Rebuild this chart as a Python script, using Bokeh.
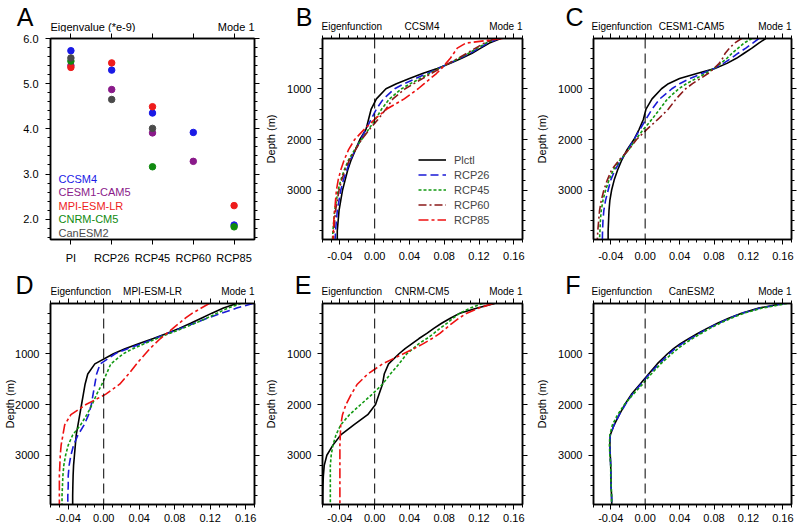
from bokeh.plotting import figure
from bokeh.models import (Range1d, FixedTicker, PrintfTickFormatter, LinearAxis, Label,
                          Span, Legend, LegendItem, CustomJSTickFormatter)
from bokeh.layouts import row, column
from bokeh.embed import file_html
from bokeh.resources import INLINE
from bokeh.core.properties import value

FONT = "Liberation Sans"

# ---------------- Panel A: eigenvalues (*e-9) ----------------
categories = ["PI", "RCP26", "RCP45", "RCP60", "RCP85"]
model_names = ["CCSM4", "CESM1-CAM5", "MPI-ESM-LR", "CNRM-CM5", "CanESM2"]
model_colors = ["#1a1ae6", "#8a1a8a", "#ee1c1c", "#108a10", "#4a4a4a"]
eig_ccsm4 = [5.73, 5.30, 4.35, 3.92, 1.87]
eig_cesm1 = [5.40, 4.87, 3.91, 3.28, None]
eig_mpi = [5.36, 5.46, 4.49, None, 2.30]
eig_cnrm = [5.50, None, 3.16, None, 1.83]
eig_canesm2 = [5.57, 4.65, 4.01, None, None]
eig_all = [eig_ccsm4, eig_cesm1, eig_mpi, eig_cnrm, eig_canesm2]
eig_yticks = [2.0, 3.0, 4.0, 5.0, 6.0]

# ---------------- Panels B-F: eigenfunction profiles ----------------
depth = [10, 100, 200, 300, 400, 500, 600, 700, 800, 900, 1000, 1200, 1400, 1600,
         1800, 2000, 2200, 2400, 2600, 2800, 3000, 3200, 3400, 3600, 3800, 3970]
depth_ticks = [1000, 2000, 3000]
eig_xticks = [-0.04, 0.0, 0.04, 0.08, 0.12, 0.16]

ccsm4_plctl = [0.145, 0.132, 0.122, 0.112, 0.100, 0.087, 0.072, 0.055, 0.040, 0.025, 0.013, 0.002, -0.004,
               -0.007, -0.010, -0.017, -0.022, -0.027, -0.031, -0.034, -0.037, -0.039, -0.041, -0.042, -0.043, -0.043]
ccsm4_rcp26 = [0.143, 0.130, 0.120, 0.110, 0.098, 0.086, 0.073, 0.060, 0.047, 0.034, 0.023, 0.010, 0.002,
               -0.004, -0.010, -0.016, -0.022, -0.028, -0.032, -0.036, -0.039, -0.041, -0.043, -0.044, -0.045, -0.0455]
ccsm4_rcp45 = [0.140, 0.128, 0.118, 0.108, 0.097, 0.085, 0.074, 0.063, 0.052, 0.041, 0.031, 0.017, 0.008,
               0.001, -0.007, -0.015, -0.023, -0.030, -0.035, -0.039, -0.042, -0.044, -0.046, -0.047, -0.048, -0.0485]
ccsm4_rcp60 = [0.138, 0.126, 0.116, 0.106, 0.096, 0.085, 0.075, 0.065, 0.055, 0.045, 0.035, 0.021, 0.013,
               0.004, -0.006, -0.015, -0.022, -0.029, -0.034, -0.038, -0.041, -0.043, -0.045, -0.046, -0.047, -0.0475]
ccsm4_rcp85 = [0.147, 0.105, 0.095, 0.091, 0.087, 0.082, 0.077, 0.071, 0.064, 0.057, 0.050, 0.034, 0.014,
               0.000, -0.012, -0.023, -0.030, -0.035, -0.039, -0.042, -0.044, -0.045, -0.046, -0.047, -0.0475, -0.048]

cesm1_plctl = [0.140, 0.132, 0.124, 0.115, 0.106, 0.095, 0.081, 0.060, 0.040, 0.027, 0.019, 0.008, 0.001,
               -0.002, -0.007, -0.013, -0.021, -0.027, -0.032, -0.036, -0.039, -0.041, -0.042, -0.0425, -0.043, -0.043]
cesm1_rcp26 = [0.132, 0.125, 0.117, 0.108, 0.100, 0.091, 0.080, 0.066, 0.052, 0.040, 0.031, 0.017, 0.008,
               0.001, -0.006, -0.013, -0.020, -0.028, -0.035, -0.040, -0.043, -0.046, -0.048, -0.049, -0.0495, -0.0497]
cesm1_rcp45 = [0.124, 0.115, 0.108, 0.101, 0.095, 0.088, 0.080, 0.070, 0.059, 0.048, 0.039, 0.026, 0.017,
               0.008, -0.002, -0.011, -0.019, -0.029, -0.037, -0.042, -0.046, -0.049, -0.051, -0.052, -0.0525, -0.053]
cesm1_rcp60 = [0.112, 0.104, 0.098, 0.093, 0.090, 0.086, 0.080, 0.073, 0.064, 0.055, 0.047, 0.036, 0.027,
               0.015, 0.002, -0.010, -0.019, -0.030, -0.039, -0.044, -0.048, -0.051, -0.053, -0.054, -0.055, -0.0555]

mpi_plctl = [0.150, 0.135, 0.122, 0.110, 0.098, 0.085, 0.071, 0.056, 0.040, 0.024, 0.011, -0.010, -0.018,
             -0.021, -0.023, -0.025, -0.027, -0.029, -0.031, -0.032, -0.033, -0.034, -0.0345, -0.0348, -0.035, -0.035]
mpi_rcp26 = [0.168, 0.150, 0.133, 0.117, 0.102, 0.087, 0.072, 0.058, 0.043, 0.027, 0.013, -0.004, -0.008,
             -0.010, -0.012, -0.014, -0.017, -0.022, -0.029, -0.034, -0.037, -0.039, -0.040, -0.040, -0.0405, -0.0405]
mpi_rcp45 = [0.155, 0.140, 0.128, 0.116, 0.103, 0.089, 0.074, 0.060, 0.046, 0.033, 0.022, 0.008, 0.003,
             -0.002, -0.008, -0.013, -0.019, -0.026, -0.035, -0.040, -0.043, -0.045, -0.046, -0.0465, -0.047, -0.047]
mpi_rcp85 = [0.119, 0.110, 0.100, 0.092, 0.085, 0.078, 0.071, 0.064, 0.058, 0.052, 0.047, 0.037, 0.028,
             0.018, 0.002, -0.020, -0.037, -0.044, -0.046, -0.048, -0.049, -0.0495, -0.050, -0.050, -0.050, -0.050]

cnrm_plctl = [0.138, 0.118, 0.098, 0.087, 0.077, 0.068, 0.060, 0.051, 0.043, 0.035, 0.028, 0.016, 0.011,
              0.009, 0.005, 0.001, -0.008, -0.024, -0.039, -0.048, -0.055, -0.058, -0.059, -0.0595, -0.0597, -0.0597]
cnrm_rcp45 = [0.124, 0.110, 0.098, 0.090, 0.083, 0.075, 0.068, 0.060, 0.051, 0.044, 0.037, 0.028, 0.018,
              0.009, -0.003, -0.016, -0.029, -0.039, -0.0445, -0.048, -0.050, -0.051, -0.051, -0.051, -0.051, -0.051]
cnrm_rcp85 = [0.136, 0.120, 0.106, 0.097, 0.089, 0.082, 0.075, 0.066, 0.056, 0.045, 0.033, 0.009, -0.008,
              -0.020, -0.027, -0.033, -0.037, -0.039, -0.0395, -0.040, -0.040, -0.040, -0.040, -0.040, -0.040, -0.040]

canesm2_plctl = [0.160, 0.132, 0.112, 0.097, 0.084, 0.072, 0.061, 0.051, 0.041, 0.033, 0.026, 0.014, 0.004,
                 -0.006, -0.016, -0.0236, -0.030, -0.036, -0.0405, -0.041, -0.0405, -0.040, -0.0398, -0.0396, -0.039, -0.0388]
canesm2_rcp26 = [0.162, 0.134, 0.113, 0.098, 0.085, 0.073, 0.063, 0.053, 0.043, 0.035, 0.028, 0.016, 0.005,
                 -0.005, -0.015, -0.023, -0.030, -0.036, -0.0405, -0.041, -0.0405, -0.040, -0.0398, -0.0396, -0.039, -0.0388]
canesm2_rcp45 = [0.165, 0.136, 0.115, 0.100, 0.087, 0.075, 0.065, 0.055, 0.046, 0.038, 0.031, 0.018, 0.007,
                 -0.003, -0.014, -0.024, -0.032, -0.038, -0.041, -0.0415, -0.041, -0.040, -0.040, -0.0395, -0.039, -0.039]

scenario_names = ["Plctl", "RCP26", "RCP45", "RCP60", "RCP85"]
scenario_colors = ["black", "#1a1ad6", "#119911", "#8b1a1a", "#ee1111"]
scenario_dashes = ["solid", "8 4", "3 2", "8 3 2 3", "10 3 3 3"]

X_RANGE = (-0.06, 0.17)
Y_RANGE = (3970, 10)   # depth, increasing downward

# ---------------- layout (pixels) ----------------
COL_W = [262, 271, 267]
COL_LEFT = [50, 59, 58]
COL_FRAME = [204, 201, 200]
STRIP_H = [32, 31]
ROW_TOP = [6, 6]
ROW_FRAME = [202, 201]
ROW_BOTTOM = [26, 23]
LETTER_GAP = [[17, 9, 8], [17, 10, 11]]
LETTER_MID = [16, 13]     # letter centre above strip bottom
TITLE_MID = 6             # title text centre above strip bottom


def make_fig(width, height, left, right, top, bottom, xr, yr):
    p = figure(width=width, height=height, x_range=Range1d(*xr), y_range=Range1d(*yr),
               output_backend="svg", toolbar_location=None, title=None,
               min_border_left=left, min_border_right=right,
               min_border_top=top, min_border_bottom=bottom)
    p.xgrid.visible = False
    p.ygrid.visible = False
    p.outline_line_color = "black"
    p.outline_line_width = 1.5
    p.background_fill_color = "white"
    p.border_fill_color = "white"
    return p


def style_axis(ax, show_labels, standoff=6):
    ax.axis_line_width = 1.5
    ax.axis_line_color = "black"
    ax.major_tick_in = 0
    ax.major_tick_out = 5
    ax.minor_tick_in = 0
    ax.minor_tick_out = 3
    ax.major_tick_line_width = 1
    ax.minor_tick_line_width = 1
    ax.major_tick_line_color = "black"
    ax.minor_tick_line_color = "black"
    ax.major_label_text_font = FONT
    ax.major_label_text_color = "black"
    ax.axis_label_text_font = FONT
    ax.axis_label_text_font_style = "normal"
    ax.axis_label_text_font_size = "11px"
    ax.axis_label_text_color = "black"
    if show_labels:
        ax.major_label_text_font_size = "11px"
        ax.major_label_standoff = standoff
    else:
        ax.major_label_text_font_size = "0px"
        ax.major_label_standoff = 0
        ax.formatter = CustomJSTickFormatter(code="return ''")


def title_strip(c, r, left_text, mid_text, right_text, letter, size="10px"):
    w, h = COL_W[c], STRIP_H[r]
    s = figure(width=w, height=h, x_range=Range1d(0, w), y_range=Range1d(0, h),
               output_backend="svg", toolbar_location=None, title=None,
               min_border_left=0, min_border_right=0, min_border_top=0, min_border_bottom=0,
               x_axis_location=None, y_axis_location=None)
    s.grid.visible = False
    s.outline_line_color = None
    s.background_fill_color = "white"
    s.border_fill_color = "white"
    fl = COL_LEFT[c]
    fr = COL_LEFT[c] + COL_FRAME[c]
    common = dict(text_baseline=value("middle"), text_font=value(FONT),
                  text_font_size=value(size), text_color="black")
    s.text(x=[fl], y=[TITLE_MID], text=[left_text], text_align=value("left"), **common)
    if mid_text:
        s.text(x=[(fl + fr) / 2.0], y=[TITLE_MID], text=[mid_text], text_align=value("center"), **common)
    s.text(x=[fr], y=[TITLE_MID], text=[right_text], text_align=value("right"), **common)
    s.text(x=[fl - LETTER_GAP[r][c]], y=[LETTER_MID[r]], text=[letter], text_align=value("right"),
           text_baseline=value("middle"), text_font=value(FONT),
           text_font_size=value("25px"), text_color="black")
    return s


def panel_dims(c, r):
    w = COL_W[c]
    h = ROW_TOP[r] + ROW_FRAME[r] + ROW_BOTTOM[r]
    left = COL_LEFT[c]
    right = w - COL_LEFT[c] - COL_FRAME[c]
    return w, h, left, right, ROW_TOP[r], ROW_BOTTOM[r]


def make_panel_a():
    idx = list(range(len(categories)))
    w, h, l, rt, t, b = panel_dims(0, 0)
    p = make_fig(w, h, l, rt, t, b, (-0.5, len(categories) - 0.5), (1.55, 6.0))
    yminor = [round(1.6 + 0.2 * k, 1) for k in range(23)]
    p.xaxis.ticker = FixedTicker(ticks=idx)
    p.yaxis.ticker = FixedTicker(ticks=eig_yticks, minor_ticks=yminor)
    p.xaxis.major_label_overrides = {i: c for i, c in zip(idx, categories)}
    p.yaxis.formatter = PrintfTickFormatter(format="%.1f")
    for ax in p.xaxis:
        style_axis(ax, True, standoff=7)
    for ax in p.yaxis:
        style_axis(ax, True, standoff=7)
    top_ax = LinearAxis(ticker=FixedTicker(ticks=idx))
    right_ax = LinearAxis(ticker=FixedTicker(ticks=eig_yticks, minor_ticks=yminor))
    style_axis(top_ax, False)
    style_axis(right_ax, False)
    p.add_layout(top_ax, "above")
    p.add_layout(right_ax, "right")
    for vals, col in zip(eig_all, model_colors):
        xs = [i for i, v in zip(idx, vals) if v is not None]
        ys = [v for v in vals if v is not None]
        p.scatter(xs, ys, size=6.5, color=col, line_color=col)
    for k, (name, col) in enumerate(zip(model_names, model_colors)):
        p.add_layout(Label(x=-0.5, y=1.55, x_offset=8, y_offset=61 - 13.5 * k, text=name,
                           text_align="left", text_baseline="middle", text_font=FONT,
                           text_font_size="11px", text_color=col))
    return p


def make_profile(c, r, series, label_standoff, ylabel_standoff, legend=False):
    w, h, l, rt, t, b = panel_dims(c, r)
    p = make_fig(w, h, l, rt, t, b, X_RANGE, Y_RANGE)
    xminor = [round(-0.06 + 0.01 * k, 2) for k in range(24)]
    yminor = [200 * k for k in range(1, 20)]
    p.xaxis.ticker = FixedTicker(ticks=eig_xticks, minor_ticks=xminor)
    p.yaxis.ticker = FixedTicker(ticks=depth_ticks, minor_ticks=yminor)
    p.xaxis.formatter = PrintfTickFormatter(format="%.2f")
    p.yaxis.formatter = PrintfTickFormatter(format="%d")
    p.yaxis.axis_label = "Depth (m)"
    for ax in p.xaxis:
        style_axis(ax, True, standoff=label_standoff)
    for ax in p.yaxis:
        style_axis(ax, True, standoff=6)
    p.yaxis.axis_label_standoff = ylabel_standoff
    top_ax = LinearAxis(ticker=FixedTicker(ticks=eig_xticks, minor_ticks=xminor))
    right_ax = LinearAxis(ticker=FixedTicker(ticks=depth_ticks, minor_ticks=yminor))
    style_axis(top_ax, False)
    style_axis(right_ax, False)
    p.add_layout(top_ax, "above")
    p.add_layout(right_ax, "right")
    p.add_layout(Span(location=0, dimension="height", line_color="black", line_width=1,
                      line_dash="10 5"))
    items = []
    for name, col, dash in zip(scenario_names, scenario_colors, scenario_dashes):
        if name in series:
            rr = p.line(series[name], depth, line_color=col, line_width=1.6, line_dash=dash)
            items.append(LegendItem(label=name, renderers=[rr]))
    if legend:
        leg = Legend(items=items, location=(96, 12), border_line_alpha=0,
                     background_fill_alpha=0, label_text_font=FONT, label_text_font_size="11px",
                     glyph_width=28, glyph_height=15, label_height=15, label_standoff=8,
                     spacing=0, padding=0, margin=0)
        p.add_layout(leg)
    return p


tA = title_strip(0, 0, "Eigenvalue (*e-9)", None, "Mode 1", "A", size="11px")
tB = title_strip(1, 0, "Eigenfunction", "CCSM4", "Mode 1", "B")
tC = title_strip(2, 0, "Eigenfunction", "CESM1-CAM5", "Mode 1", "C")
tD = title_strip(0, 1, "Eigenfunction", "MPI-ESM-LR", "Mode 1", "D")
tE = title_strip(1, 1, "Eigenfunction", "CNRM-CM5", "Mode 1", "E")
tF = title_strip(2, 1, "Eigenfunction", "CanESM2", "Mode 1", "F")

pA = make_panel_a()
pB = make_profile(1, 0, {"Plctl": ccsm4_plctl, "RCP26": ccsm4_rcp26, "RCP45": ccsm4_rcp45,
                         "RCP60": ccsm4_rcp60, "RCP85": ccsm4_rcp85}, 7, 7, legend=True)
pC = make_profile(2, 0, {"Plctl": cesm1_plctl, "RCP26": cesm1_rcp26, "RCP45": cesm1_rcp45,
                         "RCP60": cesm1_rcp60}, 7, 7)
pD = make_profile(0, 1, {"Plctl": mpi_plctl, "RCP26": mpi_rcp26, "RCP45": mpi_rcp45,
                         "RCP85": mpi_rcp85}, 4, -4)
pE = make_profile(1, 1, {"Plctl": cnrm_plctl, "RCP45": cnrm_rcp45, "RCP85": cnrm_rcp85}, 4, 7)
pF = make_profile(2, 1, {"Plctl": canesm2_plctl, "RCP26": canesm2_rcp26,
                         "RCP45": canesm2_rcp45}, 4, 7)

layout = column(row(tA, tB, tC), row(pA, pB, pC), row(tD, tE, tF), row(pD, pE, pF))
open("out.html", "w").write(file_html(layout, INLINE))
